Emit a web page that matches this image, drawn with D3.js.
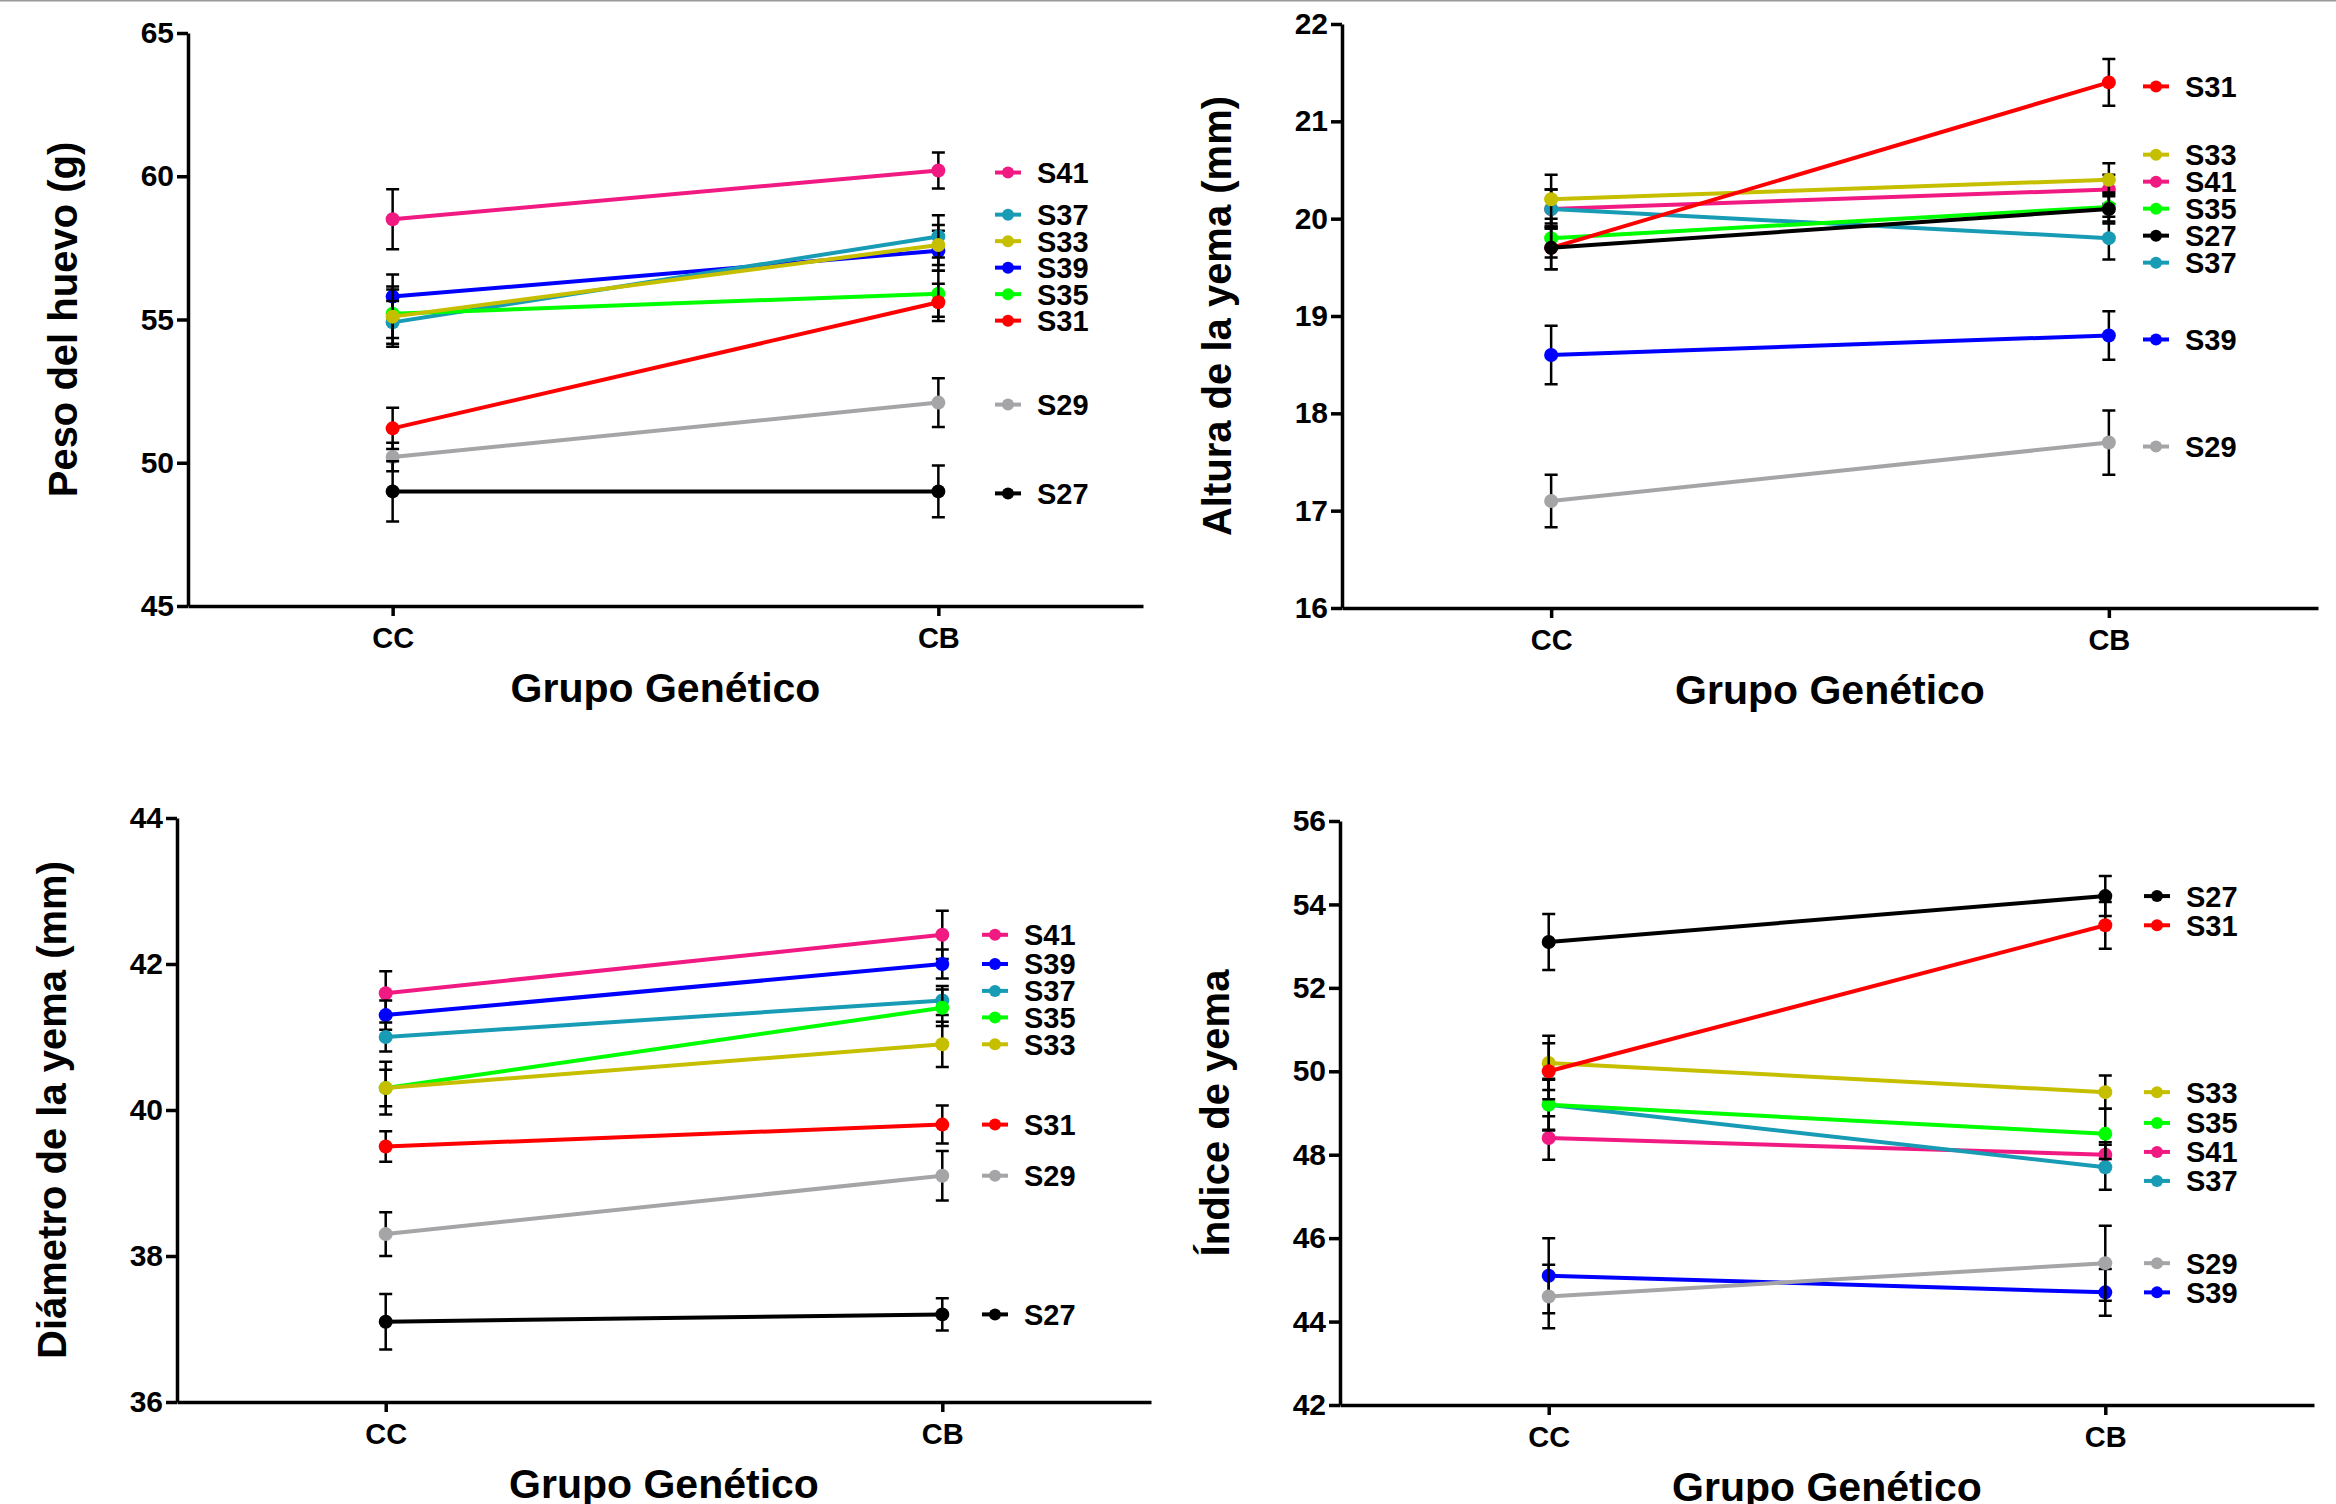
<!DOCTYPE html>
<html>
<head>
<meta charset="utf-8">
<script src="https://cdn.jsdelivr.net/npm/d3@7"></script>
<style>
  body { margin: 0; background: #fff; }
  svg { display: block; font-family: "Liberation Sans", Arial, Helvetica, sans-serif; font-weight: bold; }
</style>
</head>
<body>
<div id="chart"></div>
<script>
// groups on the x axis and the strains (series)
var groups = ["CC", "CB"];
var series = ["S27", "S29", "S31", "S33", "S35", "S37", "S39", "S41"];
var colors = ["#000000", "#a5a5a8", "#ff0000", "#c5bf00", "#00ff00", "#189bb5", "#0000ff", "#f01a82"];

// Peso del huevo (g)
var pesoCC    = [49.0, 50.2, 51.2, 55.1, 55.2, 54.9, 55.8, 58.5];
var pesoCB    = [49.0, 52.1, 55.6, 57.6, 55.9, 57.9, 57.4, 60.2];
var pesoErrCC = [1.05, 0.50, 0.72, 1.05, 0.85, 0.75, 0.77, 1.05];
var pesoErrCB = [0.90, 0.85, 0.65, 0.70, 0.80, 0.74, 0.70, 0.63];

// Altura de la yema (mm)
var alturaCC    = [19.7, 17.1, 19.7, 20.2, 19.8, 20.1, 18.6, 20.1];
var alturaCB    = [20.1, 17.7, 21.4, 20.4, 20.12, 19.8, 18.8, 20.3];
var alturaErrCC = [0.22, 0.27, 0.22, 0.25, 0.20, 0.20, 0.30, 0.20];
var alturaErrCB = [0.15, 0.33, 0.24, 0.17, 0.15, 0.22, 0.25, 0.15];

// Diámetro de la yema (mm)
var diamCC    = [37.1, 38.3, 39.5, 40.3, 40.3, 41.0, 41.3, 41.6];
var diamCB    = [37.2, 39.1, 39.8, 40.9, 41.4, 41.5, 42.0, 42.4];
var diamErrCC = [0.38, 0.30, 0.21, 0.25, 0.36, 0.20, 0.20, 0.30];
var diamErrCB = [0.22, 0.34, 0.26, 0.31, 0.25, 0.20, 0.20, 0.33];

// Índice de yema
var indiceCC    = [53.1, 44.6, 50.0, 50.2, 49.2, 49.2, 45.1, 48.4];
var indiceCB    = [54.2, 45.4, 53.5, 49.5, 48.5, 47.7, 44.7, 48.0];
var indiceErrCC = [0.67, 0.76, 0.67, 0.65, 0.62, 0.60, 0.90, 0.52];
var indiceErrCB = [0.48, 0.90, 0.56, 0.40, 0.60, 0.54, 0.56, 0.30];

var svgWidth = 2336;
var svgHeight = 1504;

var svg = d3.select("#chart")
  .append("svg")
  .attr("width", svgWidth)
  .attr("height", svgHeight);

svg.append("rect")
  .attr("width", svgWidth)
  .attr("height", svgHeight)
  .attr("fill", "#fff");

// faint border line along the top of the picture
svg.append("line")
  .attr("x1", 0).attr("x2", svgWidth)
  .attr("y1", 0.5).attr("y2", 0.5)
  .attr("stroke", "#9a9a9a")
  .attr("stroke-width", 2);

// panel layouts
var panels = [
  { ylabel: "Peso del huevo (g)", cc: pesoCC, cb: pesoCB, errCC: pesoErrCC, errCB: pesoErrCB,
    domain: [45, 65], step: 5, left: 188, right: 1143, top: 33, bottom: 606, legendX: 1008, gap: 26.5, shift: 2 },
  { ylabel: "Altura de la yema (mm)", cc: alturaCC, cb: alturaCB, errCC: alturaErrCC, errCB: alturaErrCB,
    domain: [16, 22], step: 1, left: 1342, right: 2318, top: 24, bottom: 608, legendX: 2156, gap: 27, shift: 4 },
  { ylabel: "Diámetro de la yema (mm)", cc: diamCC, cb: diamCB, errCC: diamErrCC, errCB: diamErrCB,
    domain: [36, 44], step: 2, left: 177, right: 1151, top: 818, bottom: 1402, legendX: 995, gap: 26.5, shift: 0 },
  { ylabel: "Índice de yema", cc: indiceCC, cb: indiceCB, errCC: indiceErrCC, errCB: indiceErrCB,
    domain: [42, 56], step: 2, left: 1340, right: 2314, top: 821, bottom: 1405, legendX: 2157, gap: 29, shift: 0 }
];

panels.forEach(drawPanel);

// spread legend labels so they do not overlap, keeping them near their end values
function placeLabels(targets, gap) {
  var items = targets.map(function (t, i) { return { i: i, t: t }; })
    .sort(function (a, b) { return a.t - b.t; });
  var clusters = items.map(function (d) { return { items: [d], start: d.t }; });
  var changed = true;
  while (changed) {
    changed = false;
    for (var k = 1; k < clusters.length; k++) {
      var prev = clusters[k - 1], cur = clusters[k];
      var prevEnd = prev.start + (prev.items.length - 1) * gap;
      if (cur.start - prevEnd < gap) {
        var merged = prev.items.concat(cur.items);
        var mean = d3.mean(merged, function (d) { return d.t; });
        clusters.splice(k - 1, 2, { items: merged, start: mean - (merged.length - 1) * gap / 2 });
        changed = true;
        break;
      }
    }
  }
  var pos = [];
  clusters.forEach(function (c) {
    c.items.forEach(function (d, j) { pos[d.i] = c.start + j * gap; });
  });
  return pos;
}

function drawPanel(p) {
  var x = d3.scalePoint()
    .domain(groups)
    .range([p.left, p.right])
    .padding(0.375);

  var y = d3.scaleLinear()
    .domain(p.domain)
    .range([p.bottom, p.top]);

  var g = svg.append("g");

  // axes
  var leftAxis = d3.axisLeft(y)
    .tickValues(d3.range(p.domain[0], p.domain[1] + p.step / 2, p.step))
    .tickFormat(d3.format("d"))
    .tickSize(11)
    .tickSizeOuter(0)
    .tickPadding(3);

  var bottomAxis = d3.axisBottom(x)
    .tickSize(10)
    .tickSizeOuter(0)
    .tickPadding(11);

  var ya = g.append("g")
    .attr("transform", "translate(" + p.left + ",0)")
    .call(leftAxis);
  ya.selectAll("text")
    .style("font-size", "30px")
    .style("font-weight", "bold")
    .style("font-family", "'Liberation Sans', Arial, sans-serif")
    .attr("fill", "#000");

  var xa = g.append("g")
    .attr("transform", "translate(0," + p.bottom + ")")
    .call(bottomAxis);
  xa.selectAll("text")
    .style("font-size", "29px")
    .style("font-weight", "bold")
    .style("font-family", "'Liberation Sans', Arial, sans-serif")
    .attr("fill", "#000");

  g.selectAll(".domain, .tick line")
    .attr("stroke", "#000")
    .attr("stroke-width", 3.5);

  // axis titles
  g.append("text")
    .attr("transform", "translate(" + (p.left - 111) + "," + ((p.top + p.bottom) / 2) + ") rotate(-90)")
    .attr("text-anchor", "middle")
    .style("font-size", "40px")
    .text(p.ylabel);

  g.append("text")
    .attr("x", (p.left + p.right) / 2)
    .attr("y", p.bottom + 96)
    .attr("text-anchor", "middle")
    .style("font-size", "41px")
    .text("Grupo Genético");

  // series, drawn from S41 down to S27 so S27 ends on top
  var order = d3.range(series.length).reverse();
  order.forEach(function (i) {
    var pts = [
      { grp: "CC", v: p.cc[i], e: p.errCC[i] },
      { grp: "CB", v: p.cb[i], e: p.errCB[i] }
    ];
    var sg = g.append("g");

    sg.selectAll(".err")
      .data(pts)
      .enter()
      .append("path")
      .attr("d", function (d) {
        var cx = x(d.grp), y1 = y(d.v + d.e), y2 = y(d.v - d.e);
        return "M" + (cx - 6.5) + "," + y1 + "H" + (cx + 6.5) +
               "M" + cx + "," + y1 + "V" + y2 +
               "M" + (cx - 6.5) + "," + y2 + "H" + (cx + 6.5);
      })
      .attr("fill", "none")
      .attr("stroke", "#000")
      .attr("stroke-width", 2.5);

    sg.append("path")
      .datum(pts)
      .attr("d", d3.line().x(function (d) { return x(d.grp); }).y(function (d) { return y(d.v); }))
      .attr("fill", "none")
      .attr("stroke", colors[i])
      .attr("stroke-width", 4);

    sg.selectAll("circle")
      .data(pts)
      .enter()
      .append("circle")
      .attr("cx", function (d) { return x(d.grp); })
      .attr("cy", function (d) { return y(d.v); })
      .attr("r", 7)
      .attr("fill", colors[i]);
  });

  // legend beside the CB end of each line
  var ly = placeLabels(p.cb.map(function (v) { return y(v) + p.shift; }), p.gap);
  var leg = g.selectAll(".leg")
    .data(series)
    .enter()
    .append("g")
    .attr("transform", function (d, i) { return "translate(" + p.legendX + "," + ly[i] + ")"; });

  leg.append("line")
    .attr("x1", -13).attr("x2", 13)
    .attr("stroke", function (d, i) { return colors[i]; })
    .attr("stroke-width", 4);

  leg.append("circle")
    .attr("r", 6)
    .attr("fill", function (d, i) { return colors[i]; });

  leg.append("text")
    .attr("x", 29)
    .attr("dy", "0.36em")
    .style("font-size", "29px")
    .text(function (d) { return d; });
}
</script>
</body>
</html>
